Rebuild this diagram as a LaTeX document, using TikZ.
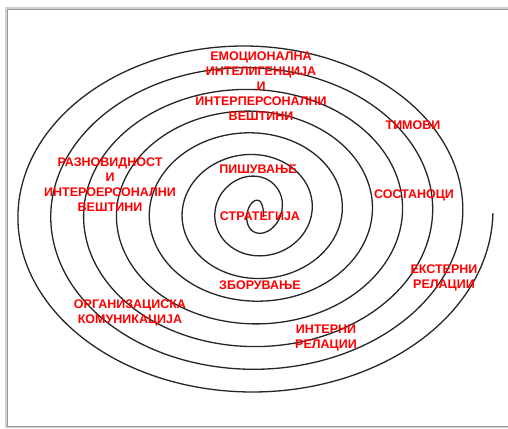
\documentclass[tikz,border=0pt]{standalone}
\usepackage{fontspec}
\setmainfont{Liberation Sans}
\begin{document}
\begin{tikzpicture}[x=1pt,y=-1pt,
  lbl/.style={text=red,font=\bfseries\fontsize{12.5}{15}\selectfont,align=center,inner sep=0pt},
  spiralline/.style={line width=1.3pt,draw=black!85,line join=round,line cap=round}]
\useasboundingbox (0,0) rectangle (508,428);
% frame with shadow
\fill[black!18] (5,7) rectangle (512,428);
\fill[white] (8,10) rectangle (512,425.5);
\draw[black!40,line width=0.8pt] (7.5,9.5) rectangle (512,426);
% spiral
\draw[spiralline] plot[domain=0:2880,samples=1500,variable=\t]
 ({258.1-(\t/360)*1.36+5*max(0,1-2*\t/360)+((\t/360)*31.5-6.3*min(1,2*\t/360))*cos(\t)},
  {209.7+(\t/360)*0.5+7*max(0,1-2*\t/360)-((\t/360)*22.21+6.27*min(1,4*\t/360))*sin(\t)});
% labels
\node[lbl] (emo) at (261,86) {ЕМОЦИОНАЛНА\\ИНТЕЛИГЕНЦИЈА\\И\\ИНТЕРПЕРСОНАЛНИ\\ВЕШТИНИ};
\node[lbl] (raz) at (110,184.5) {РАЗНОВИДНОСТ\\И\\ИНТЕРОЕРСОНАЛНИ\\ВЕШТИНИ};
\node[lbl] (pis) at (258,169) {ПИШУВАЊЕ};
\node[lbl] (str) at (260,216) {СТРАТЕГИЈА};
\node[lbl] (zbo) at (260,285) {ЗБОРУВАЊЕ};
\node[lbl] (tim) at (413,125) {ТИМОВИ};
\node[lbl] (sos) at (414,195) {СОСТАНОЦИ};
\node[lbl] (eks) at (444,278) {ЕКСТЕРНИ\\РЕЛАЦИИ};
\node[lbl] (org) at (130,312.5) {ОРГАНИЗАЦИСКА\\КОМУНИКАЦИЈА};
\node[lbl] (int) at (326,337.5) {ИНТЕРНИ\\РЕЛАЦИИ};
\end{tikzpicture}
\end{document}
